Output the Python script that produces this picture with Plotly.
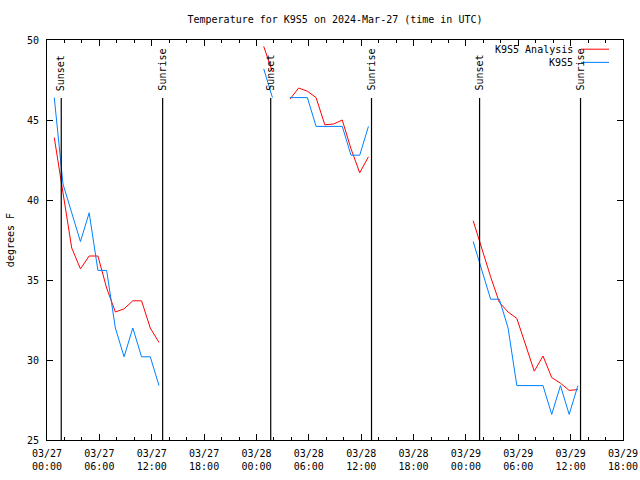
import plotly.graph_objects as go

# Observation times (UTC); a None value marks a data gap
times = [
    "2024-03-27 00:50", "2024-03-27 01:50", "2024-03-27 02:50", "2024-03-27 03:50",
    "2024-03-27 04:50", "2024-03-27 05:50", "2024-03-27 06:50", "2024-03-27 07:50",
    "2024-03-27 08:50", "2024-03-27 09:50", "2024-03-27 10:50", "2024-03-27 11:50",
    "2024-03-27 12:50", "2024-03-27 13:50",
    "2024-03-28 00:50", "2024-03-28 01:50", "2024-03-28 02:50",
    "2024-03-28 03:50", "2024-03-28 04:50", "2024-03-28 05:50", "2024-03-28 06:50",
    "2024-03-28 07:50", "2024-03-28 08:50", "2024-03-28 09:50", "2024-03-28 10:50",
    "2024-03-28 11:50", "2024-03-28 12:50", "2024-03-28 13:50",
    "2024-03-29 00:50", "2024-03-29 01:50", "2024-03-29 02:50", "2024-03-29 03:50",
    "2024-03-29 04:50", "2024-03-29 05:50", "2024-03-29 06:50", "2024-03-29 07:50",
    "2024-03-29 08:50", "2024-03-29 09:50", "2024-03-29 10:50", "2024-03-29 11:50",
    "2024-03-29 12:50",
]

analysis_temp = [
    43.9, 40.4, 37.0, 35.7, 36.5, 36.5, 34.5, 33.0, 33.2, 33.7, 33.7, 32.0, 31.1, None,
    49.6, 48.0, None,
    46.3, 47.0, 46.8, 46.4, 44.7, 44.75, 45.0, 43.2, 41.7, 42.7, None,
    38.7, 36.9, 35.2, 33.6, 33.0, 32.6, 30.9, 29.3, 30.25, 28.9, 28.55, 28.1, 28.15,
]

obs_temp = [
    46.4, 41.0, 39.2, 37.4, 39.2, 35.6, 35.6, 32.0, 30.2, 32.0, 30.2, 30.2, 28.4, None,
    48.2, 46.4, None,
    46.4, 46.4, 46.4, 44.6, 44.6, 44.6, 44.6, 42.8, 42.8, 44.6, None,
    37.4, 35.6, 33.8, 33.8, 32.0, 28.4, 28.4, 28.4, 28.4, 26.6, 28.4, 26.6, 28.4,
]

sun_events = [
    ("2024-03-27 01:38", "Sunset"),
    ("2024-03-27 13:15", "Sunrise"),
    ("2024-03-28 01:38", "Sunset"),
    ("2024-03-28 13:11", "Sunrise"),
    ("2024-03-29 01:34", "Sunset"),
    ("2024-03-29 13:08", "Sunrise"),
]

series_names = ["K9S5 Analysis", "K9S5"]
series_colors = ["#ff0000", "#0080ff"]

x_range = ["2024-03-27 00:00", "2024-03-29 18:00"]
y_range = [25, 50]

FONT = "DejaVu Sans Mono, monospace"

fig = go.Figure()
fig.add_trace(go.Scatter(x=times, y=analysis_temp, mode="lines", name=series_names[0],
                         line=dict(color=series_colors[0], width=1), connectgaps=False))
fig.add_trace(go.Scatter(x=times, y=obs_temp, mode="lines", name=series_names[1],
                         line=dict(color=series_colors[1], width=1), connectgaps=False))

shapes = []
annotations = []
for t, label in sun_events:
    shapes.append(dict(type="line", xref="x", yref="paper", x0=t, x1=t, y0=0, y1=0.855,
                       line=dict(color="black", width=1.2)))
    annotations.append(dict(x=t, xref="x", y=0.8675, yref="paper", text=label,
                            textangle=-90, showarrow=False, xanchor="center",
                            yanchor="bottom", xshift=0,
                            font=dict(family=FONT, size=10, color="black")))

# manual gnuplot-style key (text right, line sample after)
key_rows = [0.977, 0.944]
for name, color, yy in zip(series_names, series_colors, key_rows):
    annotations.append(dict(x=0.9167, xref="paper", y=yy, yref="paper", text=name,
                            showarrow=False, xanchor="right", yanchor="middle",
                            font=dict(family=FONT, size=10, color="black")))
    shapes.append(dict(type="line", xref="paper", yref="paper", x0=0.927, x1=0.9757,
                       y0=yy, y1=yy, line=dict(color=color, width=1)))

annotations.append(dict(x=-0.064, xref="paper", y=0.5, yref="paper", text="degrees F",
                        textangle=-90, showarrow=False, xanchor="center", yanchor="middle",
                        font=dict(family=FONT, size=10, color="black")))

fig.update_layout(
    width=640, height=480,
    margin=dict(l=47, r=17, t=40, b=40, autoexpand=False),
    paper_bgcolor="white", plot_bgcolor="white",
    showlegend=False,
    font=dict(family=FONT, size=10, color="black"),
    title=dict(text="Temperature for K9S5 on 2024-Mar-27 (time in UTC)",
               x=0.5, xref="paper", y=1 - 19 / 480, yanchor="middle",
               font=dict(family=FONT, size=10, color="black")),
    shapes=shapes, annotations=annotations,
)
fig.update_xaxes(
    type="date", range=x_range, showgrid=False, zeroline=False, automargin=False,
    showline=True, linecolor="black", linewidth=1, mirror="ticks",
    ticks="inside", ticklen=6, tickcolor="black",
    tick0="2024-03-27 00:00", dtick=6 * 3600 * 1000,
    tickformat="%m/%d<br>%H:%M", ticklabelstandoff=4,
    minor=dict(dtick=2 * 3600 * 1000, ticks="inside", ticklen=3, tickcolor="black"),
)
fig.update_yaxes(
    range=y_range, showgrid=False, zeroline=False, automargin=False,
    showline=True, linecolor="black", linewidth=1, mirror="ticks",
    ticks="inside", ticklen=6, tickcolor="black",
    tick0=25, dtick=5, ticklabelstandoff=5,
)

fig.write_html("out.html", config={"displayModeBar": False},
               post_script="document.body.style.margin='0';document.body.style.overflow='hidden';")
